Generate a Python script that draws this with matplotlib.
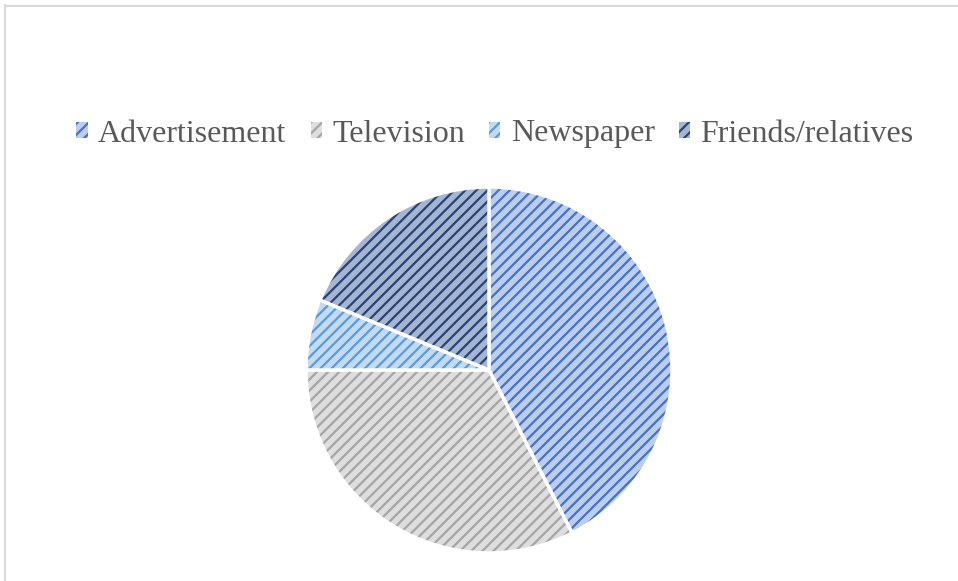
import matplotlib.pyplot as plt
from matplotlib.patches import Patch
from matplotlib.lines import Line2D
from matplotlib.colors import to_rgba

# share of respondents by source of information
labels = ['Advertisement', 'Television', 'Newspaper', 'Friends/relatives']
shares = [42.5, 32.5, 6.25, 18.75]

# hatch colour / lighter fill for each slice
hatch_colors = ['#4472c4', '#a5a5a5', '#5b9bd5', '#264478']
fill_colors = ['#bccdee', '#dedede', '#c3dbf2', '#a6b5d2']

plt.rcParams['hatch.linewidth'] = 1.6
plt.rcParams['font.family'] = ['Liberation Serif', 'DejaVu Serif']

fig = plt.figure(figsize=(9.58, 5.81), dpi=100)
ax = fig.add_axes([306 / 958, 28 / 581, 366 / 958, 366 / 581])

wedges, _ = ax.pie(shares, startangle=90, counterclock=False, radius=1,
                   colors=fill_colors,
                   wedgeprops=dict(edgecolor='white', linewidth=2.5))
for w, hc in zip(wedges, hatch_colors):
    w.set_hatch('///')
    w._hatch_color = to_rgba(hc)
ax.set_xlim(-1, 1)
ax.set_ylim(-1, 1)
ax.set_aspect('equal')

handles = [Patch(facecolor=fc, edgecolor=hc, hatch='///', linewidth=0)
           for fc, hc in zip(fill_colors, hatch_colors)]
fig.legend(handles, labels, loc='center', bbox_to_anchor=(495 / 958, 1 - 134 / 581),
           ncol=4, frameon=False, fontsize=23, handlelength=0.36, handleheight=0.36,
           handletextpad=0.32, columnspacing=0.75, labelcolor='#595959')

# chart frame, only top and left edges fall inside the image
fig.add_artist(Line2D([4.5 / 958, 4.5 / 958], [0, 1 - 5 / 581], color='#d9d9d9', lw=1.5))
fig.add_artist(Line2D([4.5 / 958, 1], [1 - 5.5 / 581, 1 - 5.5 / 581], color='#d9d9d9', lw=1.5))

fig.savefig('out.png', dpi=100)
